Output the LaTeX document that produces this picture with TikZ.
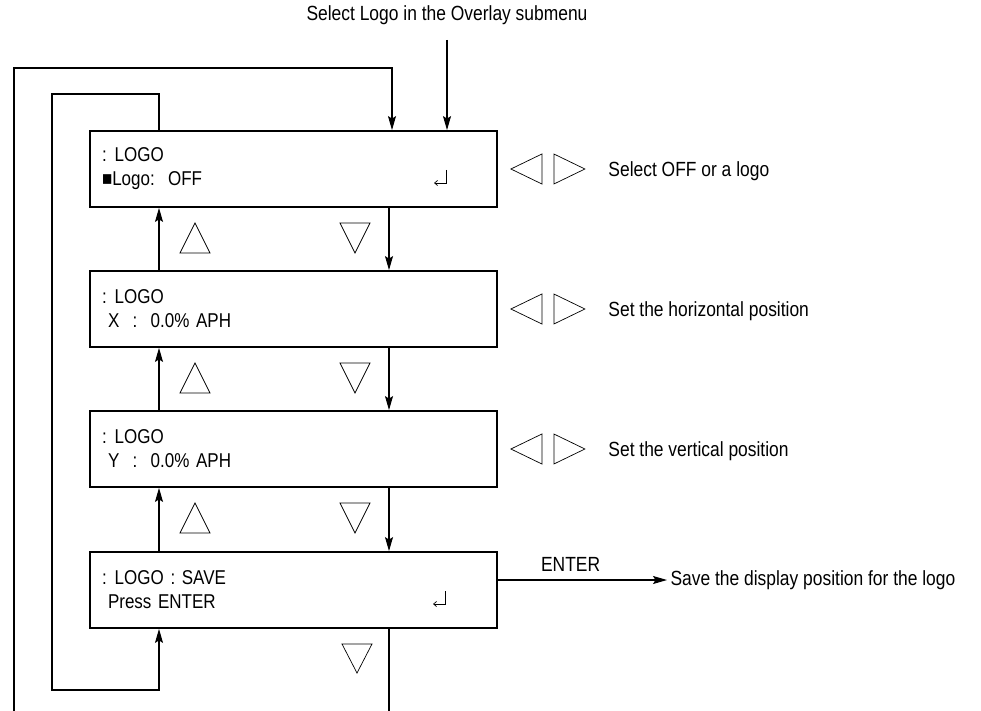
\documentclass[tikz,border=0pt]{standalone}
\usepackage{fontspec}
\setmainfont{Liberation Sans}[FakeStretch=0.85]
\usepackage{tikz}
\usetikzlibrary{positioning}
\usetikzlibrary{arrows.meta}

\tikzset{
	lcd/.style={draw, line width=1.8pt, minimum width=407pt, minimum height=76pt,
		text width=383pt, inner xsep=12pt, align=left,
		font=\fontsize{20}{24}\selectfont},
	flow/.style={line width=1.1pt, -{Stealth[length=14pt,width=8pt,inset=2.5pt]}},
	wire/.style={line width=1.1pt},
	key/.style={line width=0.7pt},
	note/.style={anchor=west, font=\fontsize{20.5}{22}\selectfont},
	ret/.pic={\draw[key, -{Straight Barb[length=3pt,width=5pt]}] (0,-13) -- (0,0) -- (-12,0);}
}

\begin{document}
\begin{tikzpicture}[x=1pt,y=-1pt]
	\useasboundingbox (0,0) rectangle (981,711);

	\node[lcd] (logo) at (293.5,169) {:\hspace{8pt}LOGO\\■Logo:\ \ OFF};
	\node[lcd] (posx) at (293.5,309) {:\hspace{8pt}LOGO\\\hspace{6pt}X\ \ :\ \ 0.0\% APH};
	\node[lcd] (posy) at (293.5,449) {:\hspace{8pt}LOGO\\\hspace{6pt}Y\ \ :\ \ 0.0\% APH};
	\node[lcd] (save) at (293.5,590) {:\hspace{8pt}LOGO : SAVE\\\hspace{6pt}Press ENTER};
	\pic at (446,183) {ret};
	\pic at (445,604) {ret};

	\coordinate (upx) at (159,0);
	\coordinate (dnx) at (389,0);

	% entry from the overlay submenu
	\node[font=\fontsize{20.5}{22}\selectfont] (menu) at (447,15) {Select Logo in the Overlay submenu};
	\coordinate (entry) at (447,40);
	\draw[flow] (entry) -- (logo.north -| entry);

	% down and up between the menus
	\draw[flow] (logo.south -| dnx) -- (posx.north -| dnx);
	\draw[flow] (posx.south -| dnx) -- (posy.north -| dnx);
	\draw[flow] (posy.south -| dnx) -- (save.north -| dnx);
	\draw[flow] (posx.north -| upx) -- (logo.south -| upx);
	\draw[flow] (posy.north -| upx) -- (posx.south -| upx);
	\draw[flow] (save.north -| upx) -- (posy.south -| upx);

	% wrap round
	\coordinate (exit) at (389,711);
	\coordinate (back) at (14,711);
	\coordinate (turn) at (392,68);
	\draw[wire] (save.south -| dnx) -- (exit);
	\draw[flow] (back) |- (turn) -- (logo.north -| turn);
	\draw[flow] (logo.north -| upx) |- (52,94) |- (159,690) -- (save.south -| upx);

	% up / down keys
	\foreach \y in {207,347,487} {
		\draw[key] (180,\y+46) -- (210,\y+46) -- (195,\y+16) -- cycle;
		\draw[key] (340,\y+16) -- (370,\y+16) -- (355,\y+46) -- cycle;
	}
	\draw[key] (342,644) -- (372,644) -- (357,673) -- cycle;

	% left / right keys
	\foreach \b/\t in {logo/Select OFF or a logo, posx/Set the horizontal position, posy/Set the vertical position} {
		\draw[key] ([xshift=13pt]\b.east) -- ++(31,-15) -- ++(0,30) -- cycle;
		\draw[key] ([xshift=56pt,yshift=15pt]\b.east) -- ++(31,15) -- ++(-31,15) -- cycle;
		\node[note] (\b-note) at ([xshift=107pt,yshift=-2pt]\b.east) {\t};
	}

	% enter
	\node[note] (savenote) at (667,580) {Save the display position for the logo};
	\draw[flow] (save.east |- savenote) -- node[above=5pt, pos=0.43, font=\fontsize{20.5}{22}\selectfont] {ENTER} (savenote.west);
\end{tikzpicture}
\end{document}
